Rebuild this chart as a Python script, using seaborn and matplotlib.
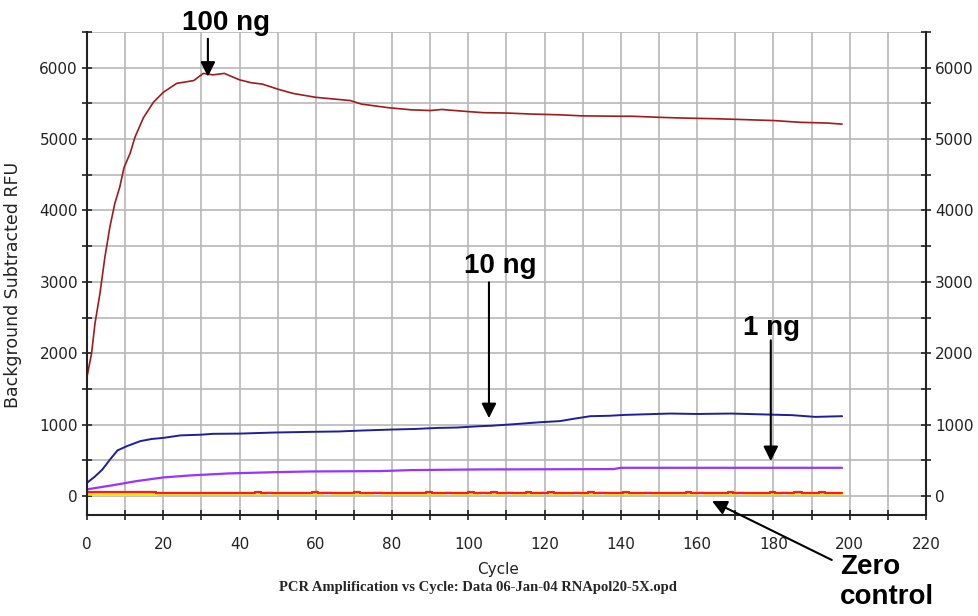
import matplotlib
matplotlib.use('Agg')
import matplotlib.pyplot as plt
import seaborn as sns
from matplotlib.ticker import MultipleLocator

# 100 ng curve (dark red)
cycles_100 = [0, 1.2, 2.1, 3.4, 4.7, 6, 7.3, 8.6, 9.7, 11.3, 12.6, 14.8, 17.4, 20, 23.5,
              28, 30.5, 33, 36, 40, 43, 46, 50, 54, 60, 65, 69, 72, 79, 85, 90, 93,
              100, 104, 110, 117, 124, 130, 140, 143, 150, 156, 165, 174, 180, 187, 194, 198]
rfu_100 = [1670, 2000, 2420, 2840, 3350, 3770, 4100, 4330, 4600, 4800, 5030, 5300, 5515, 5655, 5780,
           5820, 5920, 5900, 5920, 5830, 5790, 5770, 5700, 5640, 5585, 5560, 5540, 5490, 5440, 5410, 5400, 5415,
           5385, 5370, 5365, 5350, 5340, 5325, 5320, 5320, 5305, 5295, 5285, 5270, 5260, 5235, 5225, 5210]

# 10 ng curve (navy)
cycles_10 = [0, 2, 4, 6, 8, 10.5, 14, 17, 20, 24.5, 30, 33, 40, 49, 59, 66, 72, 80, 86, 92, 97,
             103, 106, 112, 119, 124, 128, 132, 137, 141, 153, 160, 169, 180, 185, 191, 195, 198]
rfu_10 = [186, 270, 370, 510, 640, 700, 770, 800, 815, 850, 860, 872, 875, 890, 900, 905, 918, 932, 940, 955, 960,
          979, 985, 1007, 1035, 1050, 1086, 1119, 1125, 1137, 1156, 1150, 1156, 1140, 1133, 1109, 1115, 1119]

# 1 ng curve (purple)
cycles_1 = [0, 7, 13, 20, 27, 37, 50, 59, 77, 85, 103, 138, 140, 198]
rfu_1 = [94, 154, 210, 261, 289, 317, 336, 345, 350, 364, 373, 378, 396, 396]

# zero control (red and yellow, stepped)
zero_red_cycles = [0, 18, 44, 45.5, 59, 60.5, 70, 71.5, 89, 90.5, 100, 101.5, 106, 107.5, 115, 116.5,
                   121, 122.5, 131.5, 133, 140.5, 142, 157, 158.5, 168, 169.5, 179, 180.5, 185.5, 187.5,
                   192, 193.5, 198]
zero_red_rfu = [60, 45, 58, 45, 58, 45, 58, 45, 58, 45, 58, 45, 58, 45, 58, 45,
                58, 45, 58, 45, 58, 45, 58, 45, 58, 45, 58, 45, 58, 45,
                58, 45, 45]
zero_yel_cycles = [0, 18, 47, 48.5, 62, 64, 75, 77, 94, 95.5, 103, 104.5, 110, 111.5, 119, 120.5,
                   127.5, 129, 134, 135.5, 146, 148, 160, 161.5, 170.5, 172, 182, 183.5, 198]
zero_yel_rfu = [25, 40, 60, 40, 60, 40, 60, 40, 60, 40, 60, 40, 60, 40, 60, 40,
                60, 40, 60, 40, 60, 40, 60, 40, 60, 40, 60, 40, 40]

sns.set_theme(style='white')
plt.rcParams['font.family'] = ['DejaVu Sans']

fig = plt.figure(figsize=(9.79, 6.16), dpi=100)
ax = fig.add_axes([87 / 979, 1 - 515 / 616, (926 - 87) / 979, (515 - 32) / 616])

sns.lineplot(x=cycles_1, y=rfu_1, ax=ax, color='#9933ff', linewidth=1.6, estimator=None)
sns.lineplot(x=cycles_10, y=rfu_10, ax=ax, color='#1f1f99', linewidth=1.4, estimator=None)
sns.lineplot(x=cycles_100, y=rfu_100, ax=ax, color='#a01a1e', linewidth=1.2, estimator=None)
sns.lineplot(x=zero_yel_cycles, y=zero_yel_rfu, ax=ax, color='#ffee00', linewidth=1.8,
             estimator=None, drawstyle='steps-post')
sns.lineplot(x=zero_red_cycles, y=zero_red_rfu, ax=ax, color='#ff1a1a', linewidth=1.6,
             estimator=None, drawstyle='steps-post')

ax.set_xlim(0, 220)
ax.set_ylim(-265, 6500)
ax.xaxis.set_major_locator(MultipleLocator(20))
ax.xaxis.set_minor_locator(MultipleLocator(10))
ax.yaxis.set_major_locator(MultipleLocator(1000))
ax.yaxis.set_minor_locator(MultipleLocator(500))
ax.grid(True, which='both', color='#b8b8b8', linewidth=1.2)
ax.set_axisbelow(True)

for side in ['left', 'right', 'bottom']:
    ax.spines[side].set_color('#222222')
    ax.spines[side].set_linewidth(1.5)
ax.spines['top'].set_visible(False)

ax.tick_params(which='both', direction='inout', length=7, width=1.2, color='#222222',
               left=True, right=True, bottom=True, labelright=True, labelsize=11, labelcolor='#222222')
ax.tick_params(axis='y', pad=3)
ax.tick_params(axis='x', pad=12)

ax.set_xlabel('Cycle', fontsize=11, color='#222222')
ax.xaxis.set_label_coords(0.49, -0.098)
ax.set_ylabel('Background Subtracted RFU', fontsize=12.5, color='#222222')
ax.yaxis.set_label_coords(-0.078, 0.476)

fig.text(478 / 979, 1 - 587 / 616, 'PCR Amplification vs Cycle: Data 06-Jan-04 RNApol20-5X.opd',
         ha='center', va='center', fontsize=10.5, fontweight='bold', family='Liberation Serif')

# annotations
lab = dict(fontsize=20, fontweight='bold', family='Liberation Sans', color='black')
arr = dict(arrowstyle='-|>', mutation_scale=22, color='black', lw=1.5, shrinkA=0, shrinkB=0)

ax.text(36.4, 6629, '100 ng', ha='center', va='center', clip_on=False, **lab)
ax.annotate('', xy=(31.7, 5874), xytext=(31.7, 6405), arrowprops=arr, annotation_clip=False)

ax.text(108.3, 3217, '10 ng', ha='center', va='center', **lab)
ax.annotate('', xy=(105.4, 1091), xytext=(105.4, 2993), arrowprops=arr)

ax.text(179.6, 2350, '1 ng', ha='center', va='center', **lab)
ax.annotate('', xy=(179.3, 490), xytext=(179.3, 2182), arrowprops=arr)

ax.text(197.5, -1203, 'Zero\ncontrol', ha='left', va='center', linespacing=1.2,
        clip_on=False, **lab)
ax.annotate('', xy=(163.9, -70), xytext=(195.3, -895), arrowprops=arr, annotation_clip=False)

fig.savefig('out.png', dpi=100, facecolor='white')
